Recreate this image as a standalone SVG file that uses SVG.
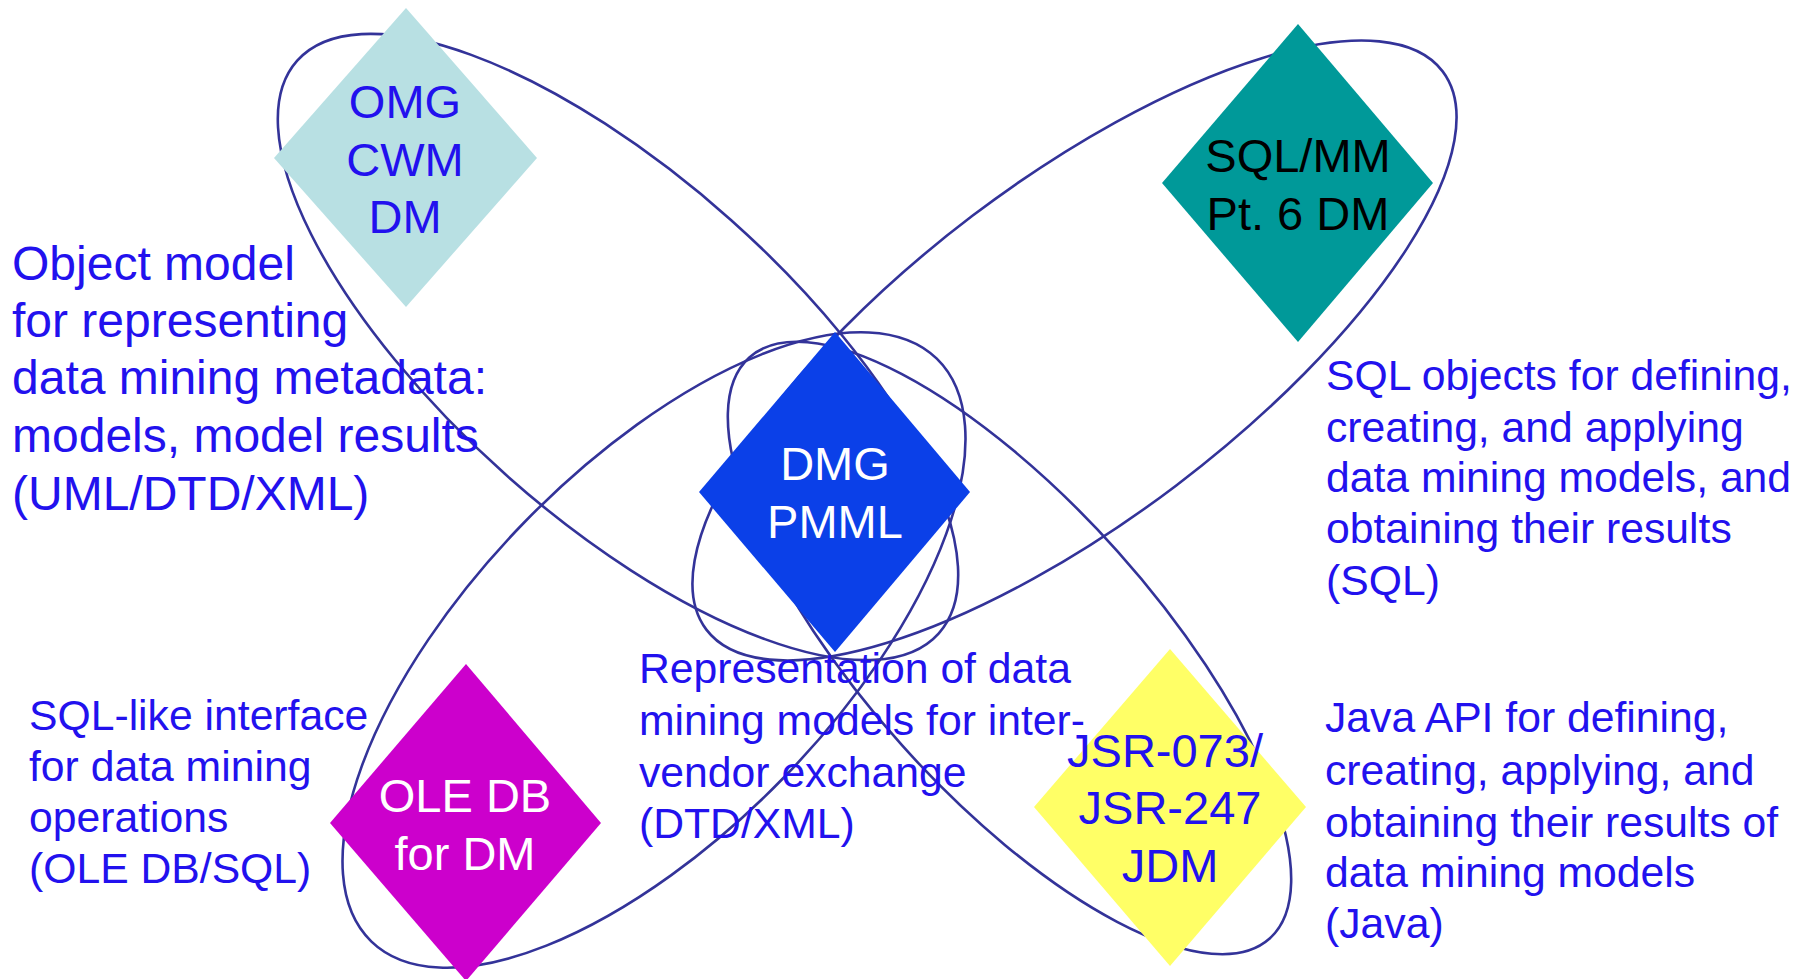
<svg xmlns="http://www.w3.org/2000/svg" width="1807" height="979" viewBox="0 0 1807 979">
<style>
.e{fill:none;stroke:#333399;stroke-width:2.6}
text{font-family:"Liberation Sans",Arial,sans-serif}
.lbl{font-size:42.7px;fill:#2211ee}
.big{font-size:48px;fill:#2211ee}
.dt{font-size:47px;text-anchor:middle}
</style>
<rect width="1807" height="979" fill="#ffffff"/>
<g id="connectors">
<ellipse class="e" cx="618" cy="347" rx="430" ry="170" transform="rotate(41.75 618 347)"/>
<ellipse class="e" cx="654" cy="650" rx="406" ry="182" transform="rotate(-45.85 654 650)"/>
<ellipse class="e" cx="1074.5" cy="350.5" rx="462" ry="169" transform="rotate(-37.17 1074.5 350.5)"/>
<ellipse class="e" cx="1009.5" cy="648" rx="390" ry="145" transform="rotate(48.16 1009.5 648)"/>
</g>
<g id="omg">
<polygon points="406,8 537,158 406,307 274,158" fill="#b8e0e3"/>
<text class="dt" fill="#2211ee" x="405" y="118">OMG</text>
<text class="dt" fill="#2211ee" x="405" y="176">CWM</text>
<text class="dt" fill="#2211ee" x="405" y="233">DM</text>
</g>
<g id="sqlmm">
<polygon points="1298,24 1433,183 1298,342 1162,183" fill="#009999"/>
<text class="dt" fill="#000000" x="1298" y="172">SQL/MM</text>
<text class="dt" fill="#000000" x="1298" y="230">Pt. 6 DM</text>
</g>
<g id="dmg">
<polygon points="835,332 970,492 835,652 699,492" fill="#0b40e8"/>
<text class="dt" fill="#ffffff" x="835" y="480">DMG</text>
<text class="dt" fill="#ffffff" x="835" y="538">PMML</text>
</g>
<g id="oledb">
<polygon points="466,664 601,823 466,981 330,823" fill="#cc00cc"/>
<text class="dt" fill="#ffffff" x="465" y="812">OLE DB</text>
<text class="dt" fill="#ffffff" x="465" y="870">for DM</text>
</g>
<g id="jdm">
<polygon points="1170,649 1306,807 1170,966 1034,807" fill="#ffff66"/>
<text class="dt" fill="#2211ee" x="1165" y="767">JSR-073/</text>
<text class="dt" fill="#2211ee" x="1170" y="824">JSR-247</text>
<text class="dt" fill="#2211ee" x="1170" y="882">JDM</text>
</g>
<g id="desc-omg">
<text class="big" x="12" y="280">Object model</text>
<text class="big" x="12" y="337">for representing</text>
<text class="big" x="12" y="394">data mining metadata:</text>
<text class="big" x="12" y="452">models, model results</text>
<text class="big" x="12" y="510">(UML/DTD/XML)</text>
</g>
<g id="desc-sql">
<text class="lbl" x="1326" y="390">SQL objects for defining,</text>
<text class="lbl" x="1326" y="442">creating, and applying</text>
<text class="lbl" x="1326" y="492">data mining models, and</text>
<text class="lbl" x="1326" y="543">obtaining their results</text>
<text class="lbl" x="1326" y="595">(SQL)</text>
</g>
<g id="desc-pmml">
<text class="lbl" x="639" y="683">Representation of data</text>
<text class="lbl" x="639" y="735">mining models for inter-</text>
<text class="lbl" x="639" y="787">vendor exchange</text>
<text class="lbl" x="639" y="838">(DTD/XML)</text>
</g>
<g id="desc-ole">
<text class="lbl" x="29" y="730">SQL-like interface</text>
<text class="lbl" x="29" y="781">for data mining</text>
<text class="lbl" x="29" y="832">operations</text>
<text class="lbl" x="29" y="883">(OLE DB/SQL)</text>
</g>
<g id="desc-jdm">
<text class="lbl" x="1325" y="732">Java API for defining,</text>
<text class="lbl" x="1325" y="785">creating, applying, and</text>
<text class="lbl" x="1325" y="837">obtaining their results of</text>
<text class="lbl" x="1325" y="887">data mining models</text>
<text class="lbl" x="1325" y="938">(Java)</text>
</g>
</svg>
